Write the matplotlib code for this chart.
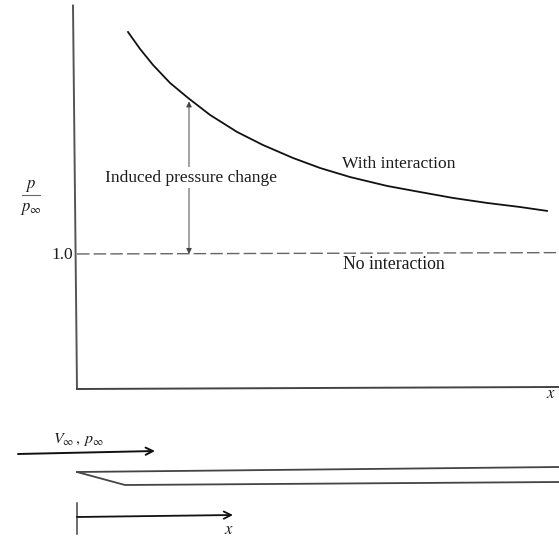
import numpy as np
import matplotlib
matplotlib.use('Agg')
import matplotlib.pyplot as plt

plt.rcParams['font.family'] = ['Liberation Serif', 'DejaVu Serif']
plt.rcParams['mathtext.fontset'] = 'stix'

# curve, x in picture units from the leading edge
x_curve = [51, 63, 76, 93, 111, 133, 160, 186, 216, 243, 273, 310, 343, 376, 410, 443, 470]
p_curve = [2.644, 2.519, 2.400, 2.267, 2.156, 2.030, 1.904, 1.807, 1.711, 1.637, 1.570, 1.504,
           1.459, 1.415, 1.378, 1.348, 1.319]
x_base = [0, 482]
p_base = [1.0, 1.01]
x_axis_y = [-4, 0]
p_axis_y = [2.84, 0.0]
x_axis_x = [0, 482]
p_axis_x = [0.0, 0.015]

# lower sketch, in picture units
flow_x = [18, 155]
flow_y = [454, 451]
plate_top_x = [77, 559]
plate_top_y = [472, 467]
plate_low_x = [77, 125, 559]
plate_low_y = [472, 485, 482]
station_x = [77, 233]
station_y = [517, 515]
tick_x = [77, 77]
tick_y = [503, 534]

ink = '#1c1c1c'
W, H = 559, 537
fig = plt.figure(figsize=(W / 100, H / 100), dpi=100)

ax = fig.add_axes([77 / W, 1 - 389 / H, 482 / W, 384 / H])
ax.set_xlim(0, 482)
ax.set_ylim(0, 2.844)
ax.axis('off')
ax.plot(x_curve, p_curve, color='#111111', lw=1.3, clip_on=False)
ax.plot(x_base, p_base, color='#666666', lw=1.0, dashes=(9, 3))
ax.plot(x_axis_y, p_axis_y, color='#555555', lw=1.4, clip_on=False)
ax.plot(x_axis_x, p_axis_x, color='#444444', lw=1.4, clip_on=False)
ax.annotate('', xy=(112, 2.13), xytext=(112, 1.0),
            arrowprops=dict(arrowstyle='<|-|>', color='#444444', lw=0.7, mutation_scale=8, shrinkA=0, shrinkB=0))
ax.text(114, 1.565, 'Induced pressure change', ha='center', va='center', fontsize=12.5, color=ink,
        bbox=dict(facecolor='white', edgecolor='none', pad=2))
ax.text(322, 1.665, 'With interaction', ha='center', va='center', fontsize=12.6, color=ink)
ax.text(317, 0.92, 'No interaction', ha='center', va='center', fontsize=12.8, color=ink)
ax.text(-4, 0.995, '1.0', ha='right', va='center', fontsize=12.5, color=ink)
ax.text(-46, 1.50, r'$p$', ha='center', va='center', fontsize=12, color=ink)
ax.plot([-55, -37], [1.435, 1.435], color='#666666', lw=0.8, clip_on=False)
ax.text(-46, 1.33, r'$p_{\infty}$', ha='center', va='center', fontsize=12, color=ink)
ax.text(474, -0.035, r'$x$', ha='center', va='center', fontsize=12, color=ink)

sk = fig.add_axes([0, 0, 1, 1 - 390 / H])
sk.set_xlim(0, W)
sk.set_ylim(H, 390)
sk.axis('off')
sk.patch.set_alpha(0)
sk.plot(plate_top_x, plate_top_y, color='#444444', lw=1.3)
sk.plot(plate_low_x, plate_low_y, color='#444444', lw=1.3)
sk.plot(tick_x, tick_y, color='#444444', lw=1.1)
sk.annotate('', xy=(flow_x[1], flow_y[1]), xytext=(flow_x[0], flow_y[0]),
            arrowprops=dict(arrowstyle='->', color='#111111', lw=1.4, mutation_scale=13, shrinkA=0, shrinkB=0))
sk.annotate('', xy=(station_x[1], station_y[1]), xytext=(station_x[0], station_y[0]),
            arrowprops=dict(arrowstyle='->', color='#111111', lw=1.3, mutation_scale=13, shrinkA=0, shrinkB=0))
sk.text(78, 440, r'$V_{\infty}\,,\,p_{\infty}$', ha='center', va='center', fontsize=11.5, color=ink)
sk.text(229, 530, r'$x$', ha='center', va='center', fontsize=12, color=ink)

fig.savefig('out.png', dpi=100)
